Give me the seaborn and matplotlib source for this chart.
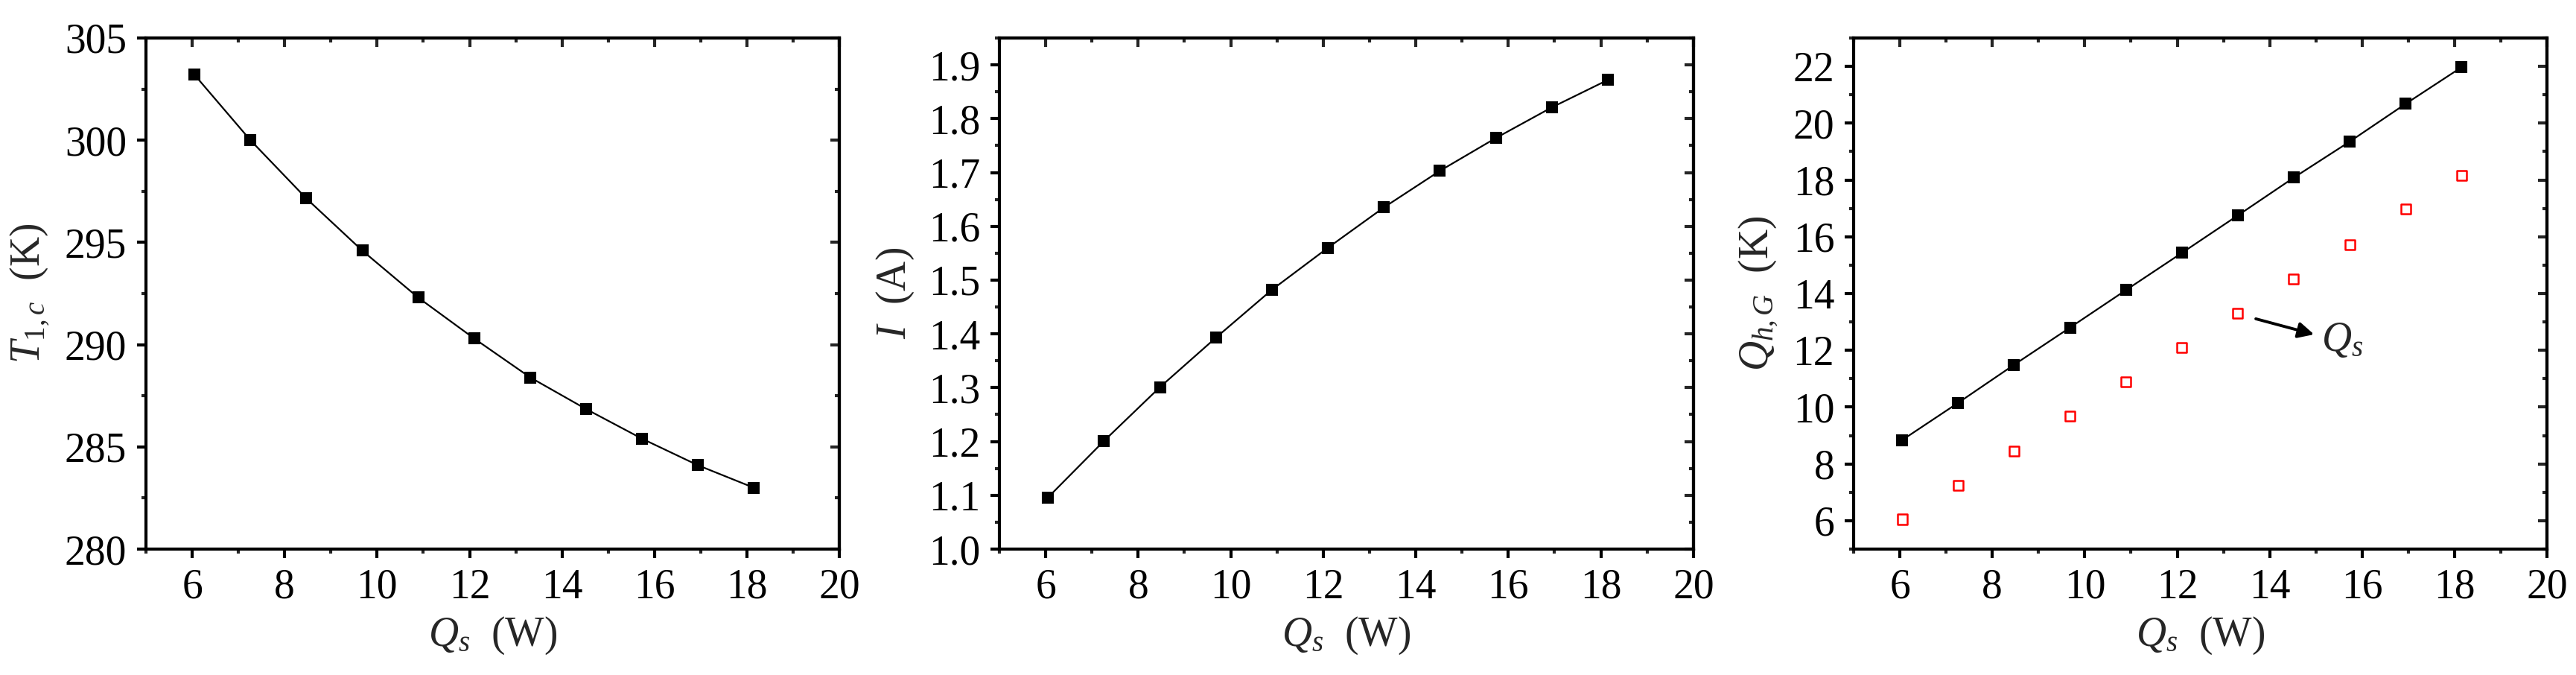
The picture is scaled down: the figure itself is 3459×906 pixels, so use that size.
import matplotlib
matplotlib.use('Agg')
import matplotlib.pyplot as plt
import seaborn as sns
import pandas as pd
from matplotlib.ticker import MultipleLocator, FormatStrFormatter

# heat load Q_s (W) on the x axis of all three panels
q_s = [6.05, 7.26, 8.47, 9.68, 10.89, 12.10, 13.31, 14.52, 15.73, 16.94, 18.15]

# panel 1: cold side temperature (K)
t_lc = [303.2, 300.0, 297.15, 294.6, 292.3, 290.3, 288.4, 286.85, 285.4, 284.1, 283.0]

# panel 2: current (A)
current = [1.096, 1.201, 1.301, 1.393, 1.482, 1.560, 1.635, 1.703, 1.764, 1.821, 1.872]

# panel 3: Q_h,G and the Q_s points (open red squares)
q_hg = [8.84, 10.15, 11.49, 12.80, 14.12, 15.43, 16.75, 18.08, 19.35, 20.68, 21.97]
q_s_pts = [6.05, 7.25, 8.46, 9.68, 10.88, 12.10, 13.30, 14.52, 15.73, 16.97, 18.15]

df = pd.DataFrame({'q_s': q_s, 't_lc': t_lc, 'current': current,
                   'q_hg': q_hg, 'q_s_pts': q_s_pts})

sns.set_theme(style='ticks')
plt.rcParams['font.family'] = 'serif'
plt.rcParams['font.serif'] = ['Liberation Serif', 'DejaVu Serif']
plt.rcParams['mathtext.fontset'] = 'custom'
plt.rcParams['mathtext.rm'] = 'Liberation Serif'
plt.rcParams['mathtext.it'] = 'Liberation Serif:italic'
plt.rcParams['axes.linewidth'] = 1.5
FS = 20

fig = plt.figure(figsize=(17.295, 4.53), dpi=200)
ax1 = fig.add_axes([0.05666, 0.18653, 0.2692, 0.7572])
ax2 = fig.add_axes([0.38797, 0.18653, 0.2694, 0.7572])
ax3 = fig.add_axes([0.71957, 0.18653, 0.2692, 0.7572])


def style_axes(ax, ylim, ymajor, yminor, yfmt):
    ax.set_xlim(5, 20)
    ax.set_ylim(*ylim)
    ax.xaxis.set_major_locator(MultipleLocator(2))
    ax.xaxis.set_minor_locator(MultipleLocator(1))
    ax.yaxis.set_major_locator(MultipleLocator(ymajor))
    ax.yaxis.set_minor_locator(MultipleLocator(yminor))
    ax.yaxis.set_major_formatter(FormatStrFormatter(yfmt))
    ax.tick_params(which='major', direction='out', length=4.3, width=1.5,
                   labelsize=FS, pad=5, colors='black')
    ax.tick_params(which='minor', direction='out', length=2.2, width=1.5)
    for s in ax.spines.values():
        s.set_visible(True)
        s.set_linewidth(1.5)
        s.set_color('black')
    # mirrored ticks on top and right, pointing inward
    top = ax.secondary_xaxis('top')
    top.xaxis.set_major_locator(MultipleLocator(2))
    top.xaxis.set_minor_locator(MultipleLocator(1))
    top.tick_params(which='major', direction='in', length=4.3, width=1.5, labeltop=False)
    top.tick_params(which='minor', direction='in', length=2.2, width=1.5)
    right = ax.secondary_yaxis('right')
    right.yaxis.set_major_locator(MultipleLocator(ymajor))
    right.yaxis.set_minor_locator(MultipleLocator(yminor))
    right.tick_params(which='major', direction='in', length=4.3, width=1.5, labelright=False)
    right.tick_params(which='minor', direction='in', length=2.2, width=1.5)
    ax.set_xlabel(r'$Q_s$  (W)', fontsize=FS, labelpad=4)
    ax.grid(False)


line_kw = dict(color='black', linewidth=0.8, marker='s', markersize=4.8,
               markeredgecolor='black', markerfacecolor='black')

sns.lineplot(data=df, x='q_s', y='t_lc', ax=ax1, **line_kw)
style_axes(ax1, (280, 305), 5, 2.5, '%d')
ax1.set_ylabel(r'$T_{1,c}$  (K)', fontsize=FS, labelpad=6)

sns.lineplot(data=df, x='q_s', y='current', ax=ax2, **line_kw)
style_axes(ax2, (1.0, 1.95), 0.1, 0.05, '%.1f')
ax2.set_ylabel(r'$I$  (A)', fontsize=FS, labelpad=6)

sns.lineplot(data=df, x='q_s', y='q_hg', ax=ax3, **line_kw)
sns.scatterplot(data=df, x='q_s', y='q_s_pts', ax=ax3, marker='s', s=22,
                facecolor='none', edgecolor='red', linewidth=0.9, zorder=3)
style_axes(ax3, (5, 23), 2, 1, '%d')
ax3.set_ylabel(r'$Q_{h,G}$  (K)', fontsize=FS, labelpad=6)

ax3.annotate('', xy=(14.96, 12.56), xytext=(13.70, 13.11),
             arrowprops=dict(arrowstyle='-|>', color='black', lw=1.4,
                             mutation_scale=16, shrinkA=0, shrinkB=0))
ax3.text(15.57, 12.35, r'$Q_s$', fontsize=FS, ha='center', va='center')

fig.savefig('out.png', dpi=200)
